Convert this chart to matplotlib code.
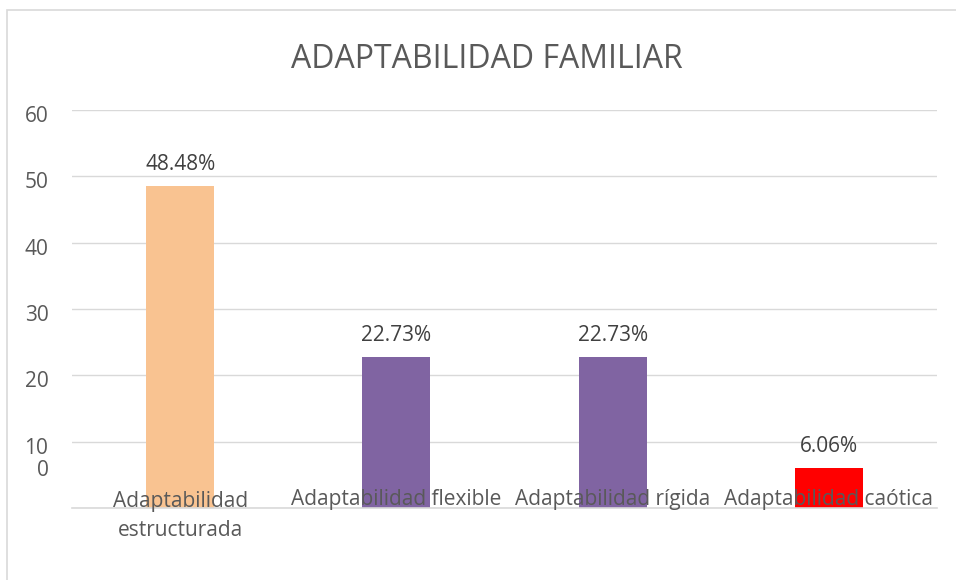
import matplotlib.pyplot as plt
from matplotlib.patches import Rectangle
from matplotlib.transforms import ScaledTranslation

categorias = ["Adaptabilidad\nestructurada", "Adaptabilidad flexible",
              "Adaptabilidad rígida", "Adaptabilidad caótica"]
porcentajes = [48.48, 22.73, 22.73, 6.06]
colores = ["#F9C391", "#8064A2", "#8064A2", "#FF0000"]
yticks = [0, 10, 20, 30, 40, 50, 60]

plt.rcParams['font.family'] = ['Open Sans', 'DejaVu Sans']
gris = "#595959"

fig = plt.figure(figsize=(9.56, 5.80), dpi=100)
W, H = 956, 580
ax = fig.add_axes([72 / W, (580 - 508) / H, (937 - 72) / W, (508 - 110) / H])

# marco exterior del grafico (solo se ven el borde izquierdo y el superior)
fig.patches.append(Rectangle((7 / W, -0.1), 1, (H - 10) / H + 0.1, transform=fig.transFigure,
                             fill=False, edgecolor="#D9D9D9", lw=1.2))

x = range(len(categorias))
ax.bar(x, porcentajes, width=0.315, color=colores, zorder=2)

for i, v in enumerate(porcentajes):
    ax.annotate(f"{v:.2f}%", (i, v), xytext=(0, 8), textcoords="offset points",
                ha="center", va="bottom", fontsize=15, color="#404040")

ax.set_xlim(-0.5, 3.5)
ax.set_ylim(0, 60)
ax.set_yticks(yticks)
ax.set_yticklabels([str(t) for t in yticks], fontsize=15, color=gris)
ax.tick_params(axis="y", length=0, pad=17)
ax.set_xticks([])
ax.grid(axis="y", color="#D9D9D9", lw=1, zorder=0)
for s in ["top", "right", "left"]:
    ax.spines[s].set_visible(False)
ax.spines["bottom"].set_color("#D9D9D9")
ax.spines["bottom"].set_linewidth(1.2)

# etiquetas del eje y algo desplazadas, el 0 aparece mas arriba
for lab, t in zip(ax.get_yticklabels(), yticks):
    dy = 40 if t == 0 else -4
    lab.set_transform(lab.get_transform() + ScaledTranslation(0, dy / 100, fig.dpi_scale_trans))

# categorias sobre la linea base
for i, c in enumerate(categorias):
    if "\n" in c:
        ax.annotate(c, (i, 0), xytext=(0, 12), textcoords="offset points",
                    ha="center", va="top", fontsize=15, color=gris,
                    linespacing=1.5, zorder=3)
    else:
        ax.annotate(c, (i, 0), xytext=(0, 6), textcoords="offset points",
                    ha="center", va="center", fontsize=15, color=gris, zorder=3)

fig.text(487 / W, (580 - 60) / H, "ADAPTABILIDAD FAMILIAR", ha="center",
         va="center", fontsize=23, color=gris)

fig.savefig("out.png", dpi=100)
